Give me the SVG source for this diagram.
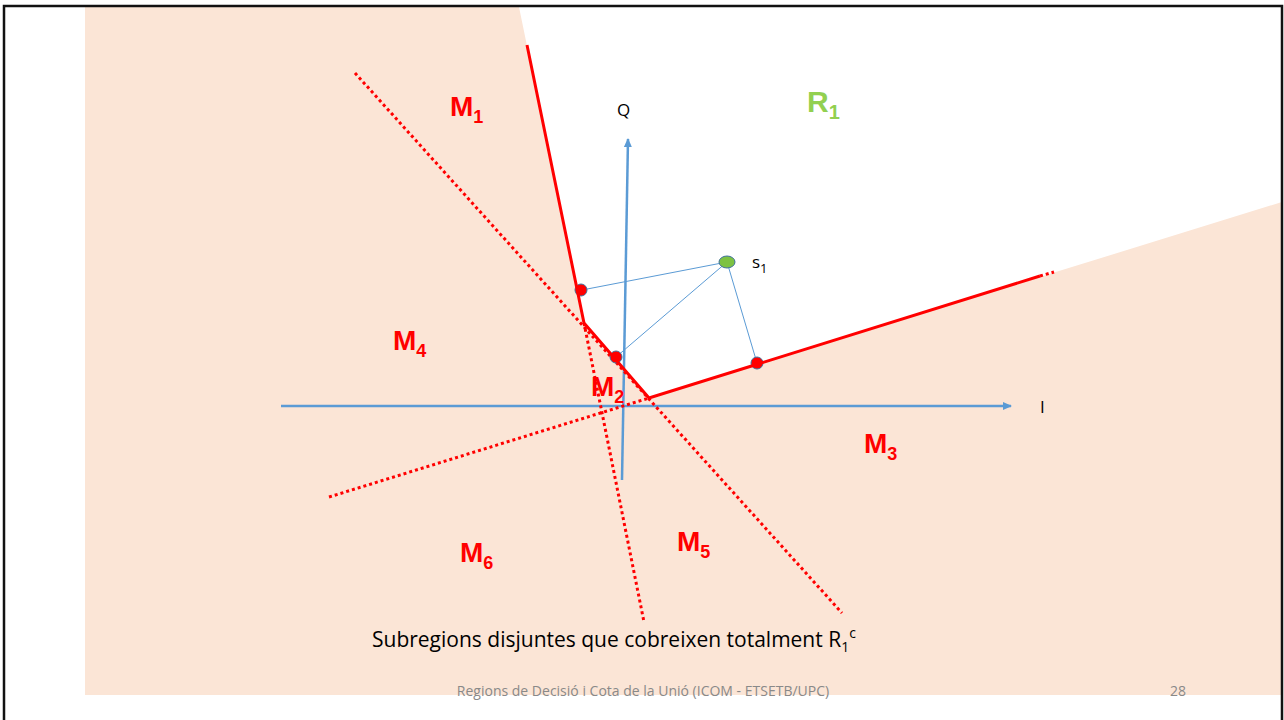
<svg xmlns="http://www.w3.org/2000/svg" width="1284" height="720" viewBox="0 0 1284 720">
<style>
.red{stroke:#FF0000;stroke-width:3;fill:none}
.dot{stroke:#FF0000;stroke-width:3;fill:none;stroke-dasharray:3 3}
.axis{stroke:#5B9BD5;stroke-width:2.5;fill:none}
.thin{stroke:#5B9BD5;stroke-width:1;fill:none}
.ml{font-family:"Liberation Sans",Arial,sans-serif;font-weight:bold;fill:#FF0000;font-size:28px}
.sub{font-size:18px}
.lbl{font-family:"Open Sans","Liberation Sans",Arial,sans-serif;fill:#000;font-size:17px}
.foot{font-family:"Open Sans","Liberation Sans",Arial,sans-serif;fill:#898989;font-size:14px}
.pt{fill:#FF0000;stroke:#41719C;stroke-width:1}
</style>
<defs>
<marker id="arr" markerWidth="10" markerHeight="10" refX="8" refY="5" orient="auto" markerUnits="userSpaceOnUse">
<path d="M0,1 L9,5 L0,9 Z" fill="#5B9BD5"/>
</marker>
</defs>
<rect width="1284" height="720" fill="#FFFFFF"/>
<polygon id="region" points="85,7 519,7 584,323 649,398 1282,202 1282,695 85,695" fill="#FBE5D6"/>
<g id="frame" stroke="#111" stroke-width="2.5" fill="none">
<path d="M4,720 V6 H1282 V720"/>
</g>
<g id="connectors">
<line class="axis" x1="281" y1="406" x2="1011" y2="406" marker-end="url(#arr)"/>
<line class="axis" x1="622" y1="480" x2="628" y2="139" marker-end="url(#arr)"/>
<line class="dot" x1="355" y1="73" x2="842" y2="613"/>
<line class="dot" x1="584" y1="323" x2="644" y2="622"/>
<line class="dot" x1="329" y1="497" x2="649" y2="398"/>
<line class="dot" x1="1040" y1="276" x2="1054" y2="272"/>
<line class="thin" x1="727" y1="262" x2="582" y2="290"/>
<line class="thin" x1="727" y1="262" x2="616" y2="357"/>
<line class="thin" x1="727" y1="262" x2="757" y2="363"/>
</g>
<g id="points">
<circle class="pt" cx="581" cy="290" r="6"/>
<circle class="pt" cx="616" cy="357" r="6"/>
<circle class="pt" cx="757" cy="363" r="6"/>
<ellipse id="s1pt" cx="727" cy="262" rx="8" ry="6" fill="#7DC242" stroke="#41719C" stroke-width="1"/>
</g>
<g id="boundary">
<polyline class="red" points="527,45 584,323 649,398 1040,276"/>
</g>
<g id="labels">
<text class="ml" x="450" y="116">M<tspan class="sub" dy="7">1</tspan></text>
<text class="ml" x="807" y="112" style="fill:#92D050;font-size:30px">R<tspan class="sub" dy="7" style="font-size:20px">1</tspan></text>
<text class="ml" x="393" y="350">M<tspan class="sub" dy="7">4</tspan></text>
<text class="ml" x="591" y="396">M<tspan class="sub" dy="7">2</tspan></text>
<text class="ml" x="864" y="453">M<tspan class="sub" dy="7">3</tspan></text>
<text class="ml" x="460" y="562">M<tspan class="sub" dy="7">6</tspan></text>
<text class="ml" x="677" y="551">M<tspan class="sub" dy="7">5</tspan></text>
<text class="lbl" x="617" y="116">Q</text>
<text class="lbl" x="1040" y="413">I</text>
<text class="lbl" x="752" y="268">s<tspan font-size="13" dy="5">1</tspan></text>
<text class="lbl" x="372" y="647" style="font-size:21px">Subregions disjuntes que cobreixen totalment R<tspan font-size="14" dy="5">1</tspan><tspan font-size="14" dy="-14">c</tspan></text>
<text class="foot" x="643" y="696" text-anchor="middle">Regions de Decisió i Cota de la Unió (ICOM - ETSETB/UPC)</text>
<text class="foot" x="1178" y="696" text-anchor="middle">28</text>
</g>
</svg>
